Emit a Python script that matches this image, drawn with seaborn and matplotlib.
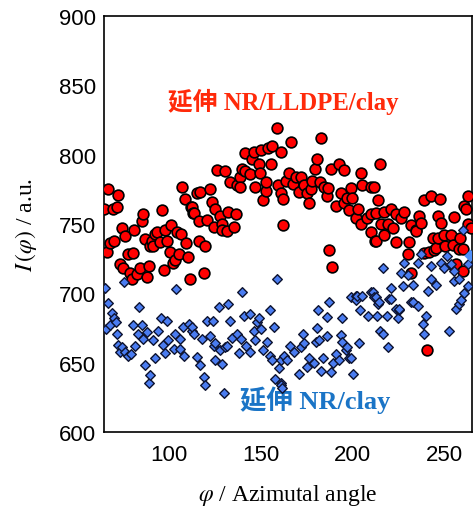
import matplotlib
matplotlib.use("Agg")
import matplotlib.pyplot as plt
import seaborn as sns
import pandas as pd

# ---- data ----
red_x = [65.0, 66.5, 67.4, 68.3, 70.0, 70.6, 72.0, 72.8, 73.7, 74.6, 75.5, 76.5, 77.9, 79.2, 80.1, 80.6,
         81.5, 82.8, 84.6, 85.5, 86.4, 87.4, 88.3, 89.2, 90.0, 91.0, 91.5, 92.8, 94.0, 95.5, 96.4, 97.7,
         98.3, 99.2, 100.6, 101.4, 102.5, 103.7, 104.6, 105.7, 106.8, 107.3, 108.8, 109.7, 110.4, 111.5,
         112.3, 112.8, 113.4, 114.0, 115.5, 116.4, 116.4, 117.3, 119.5, 120.0, 121.0, 122.4, 123.7, 124.6,
         125.5, 126.4, 127.9, 129.2, 129.2, 130.6, 131.9, 132.2, 133.7, 135.5, 137.0, 137.4, 138.8, 138.8,
         140.0, 141.9, 141.9, 144.6, 145.5, 146.4, 147.3, 149.1, 149.7, 150.6, 151.5, 152.8, 153.3, 154.0,
         155.5, 156.4, 158.8, 159.7, 161.0, 161.3, 162.4, 162.4, 163.7, 165.5, 166.8, 167.9, 169.1, 171.0,
         171.9, 173.7, 175.1, 176.4, 177.3, 178.3, 179.5, 180.6, 182.4, 182.8, 184.6, 186.0, 187.0, 187.3,
         188.2, 189.1, 191.0, 192.8, 193.7, 195.5, 195.5, 197.3, 198.2, 199.1, 200.0, 201.9, 202.8, 204.6,
         204.6, 205.5, 207.9, 210.0, 210.0, 210.0, 211.5, 212.4, 212.8, 212.8, 214.0, 215.1, 215.5, 217.3,
         217.3, 219.1, 221.0, 221.9, 223.7, 223.7, 226.4, 228.2, 230.0, 231.0, 231.8, 231.8, 234.6, 234.6,
         236.4, 237.3, 238.8, 239.1, 240.6, 241.8, 242.8, 243.7, 244.5, 245.5, 246.4, 246.4, 247.8, 248.2,
         250.0, 250.4, 253.7, 254.6, 255.5, 255.5, 256.4, 257.7, 258.7, 260.0, 260.0, 260.9, 261.8, 262.8,
         262.8, 264.6]
red_y = [761, 730, 775, 736, 761, 738, 762, 771, 721, 747, 718, 741, 728, 715, 710, 729,
         746, 714, 718, 752, 757, 739, 712, 720, 734, 738, 734, 743, 744, 737, 760, 717,
         746, 738, 730, 749, 722, 724, 744, 728, 743, 777, 768, 736, 726, 710,
         762, 762, 758, 758, 772, 752, 738, 773, 715, 734, 753, 775, 766, 748,
         761, 789, 756, 750, 746, 788, 745, 759, 780, 748, 757, 778, 784, 777,
         790, 801, 788, 786, 797, 802, 777, 793, 787, 803, 767, 774, 780, 805,
         793, 806, 819, 778, 772, 802, 768, 749, 781, 787, 809, 779, 784, 773,
         784, 778, 772, 765, 775, 781, 790, 797, 780, 812, 777, 770, 776, 731,
         790, 719, 763, 793, 772, 789, 765, 769, 760, 776, 769, 754, 761, 787,
         750, 778, 754, 777, 757, 744, 777, 738, 758, 738, 767, 793, 750, 759,
         742, 750, 761, 747, 757, 737, 754, 759, 728, 737, 749, 715, 746, 745,
         756, 751, 767, 729, 659, 730, 770, 740, 731, 733, 756, 740, 768, 751,
         742, 734, 742, 735, 755, 720, 721, 732, 740, 732, 716, 763, 761, 770,
         750, 747]

blue_x = [65.5, 66.1, 67.3, 68.3, 69.2, 70.5, 71.5, 72.3, 72.8, 73.7, 74.7, 75.9, 76.5, 78.3, 79.6, 81.0,
          81.9, 83.7, 84.2, 85.6, 86.4, 87.4, 88.3, 89.2, 90.1, 91.5, 92.5, 94.6, 96.1, 97.0, 98.3, 99.2,
          100.0, 102.8, 103.7, 104.3, 106.4, 106.4, 108.2, 108.6, 111.0, 112.8, 112.8, 114.1, 115.5, 117.0,
          118.3, 119.1, 120.1, 121.0, 122.4, 124.3, 124.6, 125.5, 125.5, 127.3, 128.3, 129.2, 130.0, 131.0,
          131.9, 132.2, 133.3, 134.6, 137.4, 138.2, 139.2, 140.0, 140.9, 142.4, 144.2, 144.2, 146.4, 147.3,
          148.3, 149.1, 150.1, 151.5, 153.7, 155.1, 155.1, 156.4, 157.3, 158.2, 159.2, 160.0, 161.0, 161.0,
          161.3, 161.9, 162.8, 164.6, 166.0, 168.2, 170.9, 171.9, 173.3, 173.7, 175.5, 176.4, 179.1, 180.1,
          181.0, 181.5, 181.8, 182.8, 184.2, 186.4, 186.4, 187.3, 188.2, 189.2, 190.9, 192.8, 193.7, 194.6,
          194.6, 196.4, 197.3, 198.2, 199.1, 199.1, 200.6, 201.9, 201.9, 202.4, 203.7, 204.2, 205.5, 208.6,
          210.0, 211.0, 211.5, 212.8, 213.3, 213.7, 214.6, 215.1, 216.4, 216.4, 218.8, 219.5, 220.0, 221.0,
          221.0, 223.7, 224.6, 225.5, 225.5, 226.4, 227.3, 228.2, 230.0, 231.8, 232.8, 232.8, 235.5, 235.5,
          237.3, 238.2, 239.1, 240.0, 241.0, 242.8, 242.8, 245.5, 248.2, 250.0, 251.5, 252.7, 253.7, 255.5,
          255.5, 256.4, 257.7, 258.2, 259.1, 260.0, 260.9, 262.8, 262.8]
blue_y = [704, 674, 693, 677, 686, 682, 679, 671, 663, 658, 661, 708, 658, 655, 656, 677,
          662, 671, 690, 677, 667, 648, 672, 635, 641, 666, 653, 673, 682, 663, 657, 680,
          666, 660, 671, 703, 660, 667, 676, 655, 678, 673, 676, 671, 654, 648,
          667, 640, 634, 680, 669, 680, 662, 664, 652, 690, 659, 649, 628, 661,
          662, 692, 680, 668, 671, 657, 667, 701, 684, 662, 685, 658, 673, 666,
          679, 682, 674, 659, 665, 688, 655, 652, 676, 638, 710, 646, 652, 635,
          634, 632, 655, 652, 662, 658, 642, 661, 671, 664, 647, 653, 650, 665,
          675, 688, 666, 644, 653, 683, 669, 694, 643, 650, 656, 652, 670, 682,
          665, 659, 661, 653, 697, 653, 642, 698, 695, 698, 664, 688, 698, 684,
          701, 701, 697, 697, 684, 692, 694, 673, 718, 671, 684, 661, 696, 704,
          696, 689, 682, 688, 689, 715, 705, 722, 713, 694, 706, 694, 722, 691,
          728, 678, 671, 684, 702, 720, 710, 706, 722, 718, 727, 673, 721, 716,
          709, 689, 692, 710, 695, 746, 700, 721, 705]

extra_x = [264.2]
extra_y = [727]

red_label = "延伸 NR/LLDPE/clay"
blue_label = "延伸 NR/clay"

red_df = pd.DataFrame({"angle": red_x, "I": red_y})
blue_df = pd.DataFrame({"angle": blue_x, "I": blue_y})
extra_df = pd.DataFrame({"angle": extra_x, "I": extra_y})

sns.set_style("white")
plt.rcParams["mathtext.fontset"] = "stix"
plt.rcParams["font.family"] = ["Liberation Sans", "DejaVu Sans"]
plt.rcParams["text.color"] = "black"
plt.rcParams["axes.labelcolor"] = "black"
plt.rcParams["xtick.color"] = "black"
plt.rcParams["ytick.color"] = "black"

fig = plt.figure(figsize=(4.76, 5.10), dpi=100)
ax = fig.add_axes([0.2185, 0.151, 0.773, 0.8157])

sns.scatterplot(data=red_df, x="angle", y="I", ax=ax, marker="o", s=60,
                color="#ff0000", edgecolor="black", linewidth=1.2, zorder=3)
sns.scatterplot(data=blue_df, x="angle", y="I", ax=ax, marker="D", s=24,
                color="#4a7cf0", edgecolor="#0d1330", linewidth=1.0, zorder=4)
sns.scatterplot(data=extra_df, x="angle", y="I", ax=ax, marker="D", s=40,
                color="#4f8ef8", edgecolor="none", linewidth=0, zorder=4)

ax.set_xlim(65, 265)
ax.set_ylim(600, 900)
ax.set_xticks([100, 150, 200, 250])
ax.set_yticks([600, 650, 700, 750, 800, 850, 900])
ax.tick_params(axis="both", direction="in", length=9, width=1.2,
               labelsize=16, labelcolor="black", top=False, right=False)
ax.tick_params(axis="both", color="#555555")
ax.tick_params(axis="x", pad=9)
ax.tick_params(axis="y", pad=6)
for sp in ax.spines.values():
    sp.set_color("black")
    sp.set_linewidth(1.2)

ax.set_xlabel(r"$\varphi$ / Azimutal angle", fontsize=17, family=["Liberation Serif"],
              labelpad=12, color="black")
ax.set_ylabel(r"$I\,(\varphi)$ / a.u.", fontsize=17, family=["Liberation Serif"],
              labelpad=14, color="black")

ax.text(0.174, 0.796, red_label, transform=ax.transAxes, color="#ff2a0a", fontsize=17.8,
        fontweight="bold", family=["Liberation Serif", "Noto Sans CJK JP"], ha="left", va="center")
ax.text(0.37, 0.079, blue_label, transform=ax.transAxes, color="#1a74c6", fontsize=19,
        fontweight="bold", family=["Liberation Serif", "Noto Sans CJK JP"], ha="left", va="center")

fig.savefig("out.png", dpi=100)
